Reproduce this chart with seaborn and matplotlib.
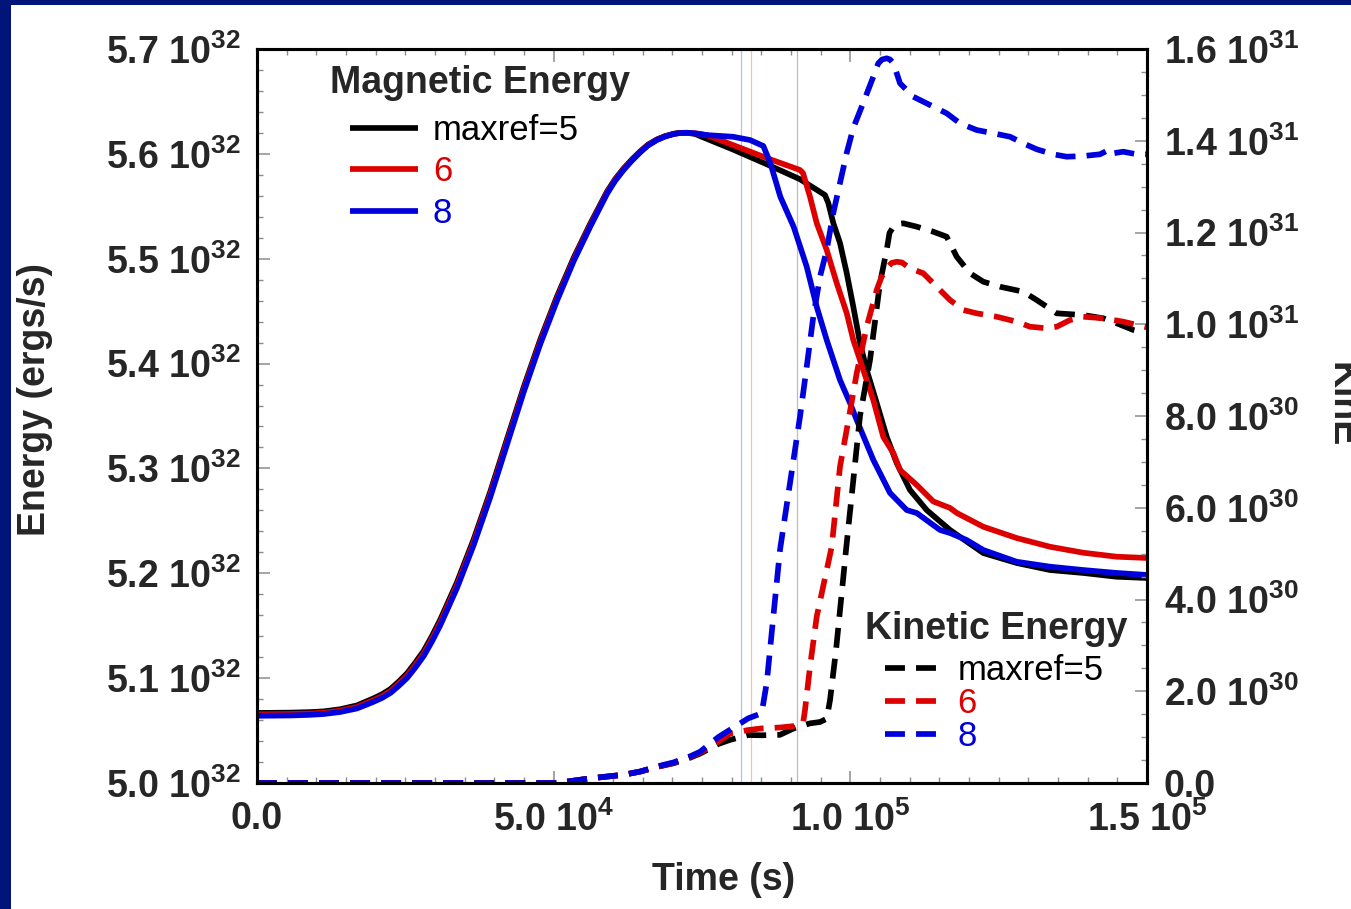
import numpy as np
import pandas as pd
import matplotlib
matplotlib.use("Agg")
import matplotlib.pyplot as plt
import seaborn as sns
from matplotlib.lines import Line2D
from matplotlib.patches import Rectangle
from matplotlib.ticker import MultipleLocator, FuncFormatter

# ---------------------------------------------------------------- data
# magnetic energy, units of 1e32 erg/s
time_mag5 = [0, 5562, 8933, 11242, 13989, 16854, 19551, 21067, 22467, 23764,
             25281, 26629, 28096, 29494, 30894, 33708, 36523, 39321, 42135, 44949,
             47747, 50562, 53377, 56175, 58989, 60337, 61804, 63202, 64601, 65899,
             67416, 68764, 70230, 71292, 72472, 73820, 74663, 80281, 85908, 91517,
             95731, 96287, 97129, 98258, 99387, 100500, 101629, 102758, 104444, 106129,
             107814, 110056, 112871, 116798, 122410, 128040, 133652, 139265, 144893, 150000]
mag5 = [5.0668, 5.0671, 5.0676, 5.0683, 5.0703, 5.0740, 5.0805, 5.0846, 5.0895, 5.0960,
        5.1045, 5.1144, 5.1260, 5.1402, 5.1559, 5.1915, 5.2325, 5.2780, 5.3280, 5.3775,
        5.4230, 5.4640, 5.5010, 5.5335, 5.5640, 5.5758, 5.5862, 5.5948, 5.6025, 5.6088,
        5.6138, 5.6169, 5.6192, 5.6200, 5.6201, 5.6190, 5.6170, 5.6040, 5.5901, 5.5758,
        5.5607, 5.5531, 5.5340, 5.5150, 5.4864, 5.4542, 5.4196, 5.3939, 5.3624, 5.3302,
        5.3052, 5.2794, 5.2603, 5.2413, 5.2193, 5.2098, 5.2031, 5.2003, 5.1967, 5.1955]

time_mag6 = [0, 5562, 8933, 11242, 13989, 16854, 19551, 21067, 22467, 23764,
             25281, 26629, 28096, 29494, 30894, 33708, 36523, 39321, 42135, 44949,
             47747, 50562, 53377, 56175, 58989, 60337, 61804, 63202, 64601, 65899,
             67416, 68764, 70230, 71292, 72472, 73820, 75843, 80225, 85908, 91517,
             92023, 93203, 94332, 96018, 97703, 99387, 100500, 102185, 103873, 105557,
             107243, 108371, 111185, 113985, 116798, 117950, 122410, 128040, 133652, 139265,
             144893, 150000]
mag6 = [5.0655, 5.0658, 5.0663, 5.0670, 5.0690, 5.0725, 5.0788, 5.0828, 5.0876, 5.0940,
        5.1023, 5.1121, 5.1235, 5.1376, 5.1532, 5.1888, 5.2298, 5.2754, 5.3254, 5.3752,
        5.4209, 5.4620, 5.4994, 5.5321, 5.5630, 5.5750, 5.5855, 5.5942, 5.6020, 5.6084,
        5.6135, 5.6167, 5.6190, 5.6200, 5.6201, 5.6196, 5.6178, 5.6084, 5.5960, 5.5846,
        5.5817, 5.5591, 5.5340, 5.5083, 5.4768, 5.4482, 5.4225, 5.3939, 5.3652, 5.3300,
        5.3147, 5.2985, 5.2843, 5.2685, 5.2623, 5.2575, 5.2444, 5.2336, 5.2253, 5.2196,
        5.2158, 5.2146]

time_mag8 = [0, 5562, 8933, 11242, 13989, 16854, 19551, 21067, 22467, 23764,
             25281, 26629, 28096, 29494, 30894, 33708, 36523, 39321, 42135, 44949,
             47747, 50562, 53377, 56175, 58989, 60337, 61804, 63202, 64601, 65899,
             67416, 68764, 70230, 71292, 72472, 73820, 75843, 80225, 83090, 85334,
             86517, 88202, 90444, 92647, 94332, 96018, 98258, 99944, 101075, 103873,
             106688, 109503, 111185, 115113, 116798, 119614, 122410, 128040, 133652, 139265,
             144893, 150000]
mag8 = [5.0641, 5.0644, 5.0650, 5.0658, 5.0677, 5.0711, 5.0772, 5.0811, 5.0858, 5.0920,
        5.1001, 5.1097, 5.1211, 5.1350, 5.1505, 5.1860, 5.2270, 5.2727, 5.3228, 5.3729,
        5.4187, 5.4600, 5.4978, 5.5307, 5.5619, 5.5741, 5.5848, 5.5936, 5.6015, 5.6080,
        5.6132, 5.6165, 5.6189, 5.6199, 5.6201, 5.6196, 5.6179, 5.6163, 5.6132, 5.6075,
        5.5913, 5.5591, 5.5305, 5.4924, 5.4542, 5.4225, 5.3843, 5.3624, 5.3462, 5.3081,
        5.2766, 5.2603, 5.2575, 5.2413, 5.2384, 5.2317, 5.2222, 5.2110, 5.2063, 5.2031,
        5.2003, 5.1984]

# kinetic energy, units of 1e31 erg/s
time_kin5 = [0, 50562, 56123, 61804, 64601, 67416, 70230, 72978, 74663, 77749,
             79720, 82805, 85050, 88147, 90444, 93203, 94888, 96018, 96580, 97590,
             98720, 99270, 100500, 101629, 103315, 105000, 106129, 106600, 107243, 107950,
             108928, 111185, 113985, 116241, 117927, 120169, 122410, 125225, 129153, 131411,
             134782, 139265, 142636, 144893, 147690, 148820]
kin5 = [0, 0.0, 0.010, 0.018, 0.025, 0.035, 0.043, 0.055, 0.064, 0.085,
        0.094, 0.1046, 0.104, 0.105, 0.119, 0.130, 0.133, 0.140, 0.181, 0.290,
        0.436, 0.508, 0.66, 0.80, 0.922, 1.090, 1.162, 1.199, 1.2127, 1.2185,
        1.220, 1.2127, 1.2017, 1.1908, 1.1472, 1.1111, 1.0927, 1.0818, 1.0709, 1.0528,
        1.0238, 1.0201, 1.0130, 1.0021, 0.9875, 0.9838]

time_kin6 = [0, 50562, 56123, 61804, 64601, 67416, 70230, 72978, 74663, 77749,
             79720, 82805, 85050, 88147, 90444, 92023, 92360, 93203, 94332, 96018,
             96860, 98258, 99944, 101070, 102758, 104444, 105250, 106129, 106940, 107814,
             108710, 110056, 112298, 114556, 116798, 119040, 121299, 124669, 128040, 130281,
             133096, 134782, 137023, 139265, 142636, 146006, 150000]
kin6 = [0, 0.0, 0.010, 0.018, 0.025, 0.035, 0.044, 0.057, 0.066, 0.090,
        0.108, 0.1155, 0.119, 0.121, 0.124, 0.130, 0.159, 0.2535, 0.3625, 0.4643,
        0.515, 0.6895, 0.81, 0.893, 0.9946, 1.0746, 1.103, 1.1219, 1.1335, 1.1363,
        1.1346, 1.1219, 1.1111, 1.0818, 1.0528, 1.0310, 1.0238, 1.0164, 1.0056, 0.9946,
        0.9912, 0.9946, 1.0092, 1.0164, 1.0130, 1.0056, 0.9933]

time_kin8 = [0, 50562, 56123, 61804, 64601, 67416, 70230, 72978, 74663, 77749,
             79720, 82805, 85050, 85908, 86462, 87018, 87591, 88147, 89833, 91517,
             92647, 93759, 94888, 96018, 97129, 98258, 99387, 100500, 102185, 103873,
             104326, 104715, 105337, 106129, 106688, 107243, 107698, 108371, 110612, 113427,
             116241, 118483, 121299, 124096, 126910, 129153, 131411, 134208, 136466, 139265,
             142080, 143764, 144320, 146006, 148264, 150000]
kin8 = [0, 0.0, 0.010, 0.018, 0.025, 0.036, 0.045, 0.058, 0.068, 0.100,
        0.116, 0.141, 0.152, 0.218, 0.290, 0.3625, 0.436, 0.508, 0.654, 0.7985,
        0.9075, 1.0164, 1.1036, 1.1618, 1.2425, 1.3079, 1.3733, 1.4278, 1.4830, 1.5396,
        1.5564, 1.5688, 1.5771, 1.5797, 1.5771, 1.5688, 1.5520, 1.5252, 1.4960, 1.4779,
        1.4598, 1.4380, 1.4234, 1.4162, 1.4088, 1.3944, 1.3814, 1.3705, 1.3652, 1.3667,
        1.3705, 1.3814, 1.3727, 1.3761, 1.3705, 1.3705]

# refinement-event times (thin vertical guides)
event_times = [81573, 83258, 91011]
event_colors = ["#b8b8ff", "#ffb8b8", "#bdbdbd"]

labels = ["maxref=5", "6", "8"]
colors = ["#000000", "#dd0000", "#0000dd"]

# ---------------------------------------------------------------- style
sns.set_style("white")
plt.rcParams["font.family"] = ["Liberation Sans", "DejaVu Sans"]
plt.rcParams["font.weight"] = "bold"
plt.rcParams["mathtext.fontset"] = "custom"
plt.rcParams["mathtext.rm"] = "Liberation Sans:bold"
plt.rcParams["mathtext.bf"] = "Liberation Sans:bold"
plt.rcParams["mathtext.it"] = "Liberation Sans:bold"

W, H = 1351, 909
fig = plt.figure(figsize=(W / 100, H / 100), dpi=100)
fig.patch.set_facecolor("white")
navy = "#001479"
fig.patches.append(Rectangle((0, 0), 11 / W, 1, transform=fig.transFigure,
                             facecolor=navy, edgecolor="none", zorder=10))
fig.patches.append(Rectangle((0, 1 - 5 / H), 1, 5 / H, transform=fig.transFigure,
                             facecolor=navy, edgecolor="none", zorder=10))

ax = fig.add_axes([257 / W, 1 - 783 / H, 890 / W, 734 / H])
ax2 = ax.twinx()

LW = 4.1
DASH = (0, (3.5, 1.95))

for t, c in zip(event_times, event_colors):
    ax.axvline(t, color=c, lw=0.9, zorder=0.5)

mag_series = [(time_mag5, mag5), (time_mag6, mag6), (time_mag8, mag8)]
kin_series = [(time_kin5, kin5), (time_kin6, kin6), (time_kin8, kin8)]

for (t, e), c in zip(mag_series, colors):
    df = pd.DataFrame({"t": t, "E": np.asarray(e) * 1e32})
    sns.lineplot(data=df, x="t", y="E", ax=ax, color=c, lw=LW,
                 estimator=None, errorbar=None, solid_capstyle="butt",
                 solid_joinstyle="round")

for (t, k), c in zip(kin_series, colors):
    df = pd.DataFrame({"t": t, "K": np.asarray(k) * 1e31})
    sns.lineplot(data=df, x="t", y="K", ax=ax2, color=c, lw=LW, linestyle=DASH,
                 estimator=None, errorbar=None, dash_capstyle="butt",
                 dash_joinstyle="round")

ax.set_xlim(0, 1.5e5)
ax.set_ylim(5.0e32, 5.7e32)
ax2.set_ylim(0, 1.6e31)
for a in (ax, ax2):
    a.set_xlabel("")
    a.set_ylabel("")


def sci_label(v, pos=None):
    if abs(v) < 1e-300:
        return "0.0"
    e = int(np.floor(np.log10(abs(v)) + 1e-9))
    m = v / 10.0 ** e
    return f"{m:.1f} $10^{{{e}}}$"


ax.xaxis.set_major_locator(MultipleLocator(5e4))
ax.xaxis.set_minor_locator(MultipleLocator(5e3))
ax.yaxis.set_major_locator(MultipleLocator(1e31))
ax.yaxis.set_minor_locator(MultipleLocator(2e30))
ax2.yaxis.set_major_locator(MultipleLocator(2e30))
ax2.yaxis.set_minor_locator(MultipleLocator(5e29))
ax.xaxis.set_major_formatter(FuncFormatter(sci_label))
ax.yaxis.set_major_formatter(FuncFormatter(sci_label))
ax2.yaxis.set_major_formatter(FuncFormatter(sci_label))

tick_gray = "#8c8c8c"
ax.tick_params(axis="x", which="both", direction="in", top=True, bottom=True,
               color=tick_gray, labelsize=27, pad=13)
ax.tick_params(axis="y", which="both", direction="in", left=True, right=False,
               color=tick_gray, labelsize=27, pad=12)
ax2.tick_params(axis="y", which="both", direction="in", right=True, left=False,
                color=tick_gray, labelsize=27, pad=12)
for a in (ax, ax2):
    a.tick_params(which="major", length=9, width=1.1)
    a.tick_params(which="minor", length=4.5, width=1.0)
    for s in a.spines.values():
        s.set_linewidth(2.2)
        s.set_color("black")
        s.set_visible(True)

# ---------------------------------------------------------------- legends
mag_handles = [Line2D([], [], color=c, lw=LW, solid_capstyle="butt") for c in colors]
kin_handles = [Line2D([], [], color=c, lw=LW, linestyle=DASH, dash_capstyle="butt")
               for c in colors]

leg1 = ax2.legend(mag_handles, labels, loc="upper left",
                  bbox_to_anchor=((350 - 257) / 890, (783 - 114) / 734),
                  frameon=False, borderpad=0, borderaxespad=0,
                  handlelength=1.96, handletextpad=0.43, labelspacing=0.24,
                  prop={"size": 25, "weight": "normal"}, labelcolor=colors)
ax2.add_artist(leg1)
leg2 = ax2.legend(kin_handles, labels, loc="upper left",
                  bbox_to_anchor=((885 - 257) / 890, (783 - 654) / 734),
                  frameon=False, borderpad=0, borderaxespad=0,
                  handlelength=1.5, handletextpad=0.58, labelspacing=0.0,
                  prop={"size": 25, "weight": "normal"}, labelcolor=colors)

ax2.text((330 - 257) / 890, (783 - 83) / 734, "Magnetic Energy", transform=ax2.transAxes,
         fontsize=27, fontweight="bold", ha="left", va="center")
ax2.text((865 - 257) / 890, (783 - 629) / 734, "Kinetic Energy", transform=ax2.transAxes,
         fontsize=27, fontweight="bold", ha="left", va="center")

# ---------------------------------------------------------------- axis titles
fig.text(35 / W, 1 - 400 / H, "Energy (ergs/s)", rotation=90, fontsize=27,
         fontweight="bold", ha="center", va="center")
fig.text(724 / W, 1 - 880 / H, "Time (s)", fontsize=27, fontweight="bold",
         ha="center", va="center")
fig.text(1341 / W, 1 - 405 / H, "KinE", rotation=-90, fontsize=27,
         fontweight="bold", ha="center", va="center")

fig.savefig("out.png", dpi=100)
